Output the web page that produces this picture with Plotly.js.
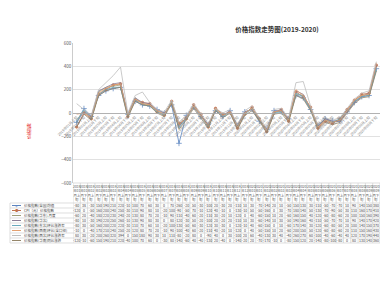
<!DOCTYPE html>
<html><head><meta charset="utf-8">
<script src="https://cdn.plot.ly/plotly-3.0.1.min.js"></script>
<style>html,body{margin:0;padding:0;overflow:hidden;background:#fff}#c{width:380px;height:290px}</style>
</head><body><div id="c"></div>
<script>
const categories = [
 "2019年01月上旬","2019年01月下旬","2019年02月上旬","2019年02月下旬","2019年03月上旬","2019年03月下旬",
 "2019年04月上旬","2019年04月下旬","2019年05月上旬","2019年05月下旬","2019年06月上旬","2019年06月下旬",
 "2019年07月上旬","2019年07月下旬","2019年08月上旬","2019年08月下旬","2019年09月上旬","2019年09月下旬",
 "2019年10月上旬","2019年10月下旬","2019年11月上旬","2019年11月下旬","2019年12月上旬","2019年12月下旬",
 "2020年01月上旬","2020年01月下旬","2020年02月上旬","2020年02月下旬","2020年03月上旬","2020年03月下旬",
 "2020年04月上旬","2020年04月下旬","2020年05月上旬","2020年05月下旬","2020年06月上旬","2020年06月下旬",
 "2020年07月上旬","2020年07月下旬","2020年08月上旬","2020年08月下旬","2020年09月上旬","2020年09月下旬"];

const seriesNames = [
 "价格指数(全国)均值",
 "CPI（元）价格指数",
 "价格指数(华东)-月度",
 "价格指数(华北)",
 "价格指数(东北)环比涨跌率",
 "价格指数(西南)环比(全口径)",
 "价格指数(西北)环比涨跌率",
 "价格指数(华南)同比涨跌"];

const s1 = [-80, 38, -30, 150, 190, 210, 220, -10, 100, 70, 60, 30, 0, 70, -260, -20, 50, -30, -100, 20, -30, 20, -110, 10, 30, -70, -140, 20, 10, -50, 150, 130, 30, -110, -50, -70, -70, 10, 90, 140, 150, 380];
const s2 = [-120, 0, -50, 160, 200, 240, 250, -30, 110, 90, 80, 10, -20, 100, -90, -50, 70, -10, -120, 40, -10, 0, -130, -10, 50, -50, -160, 0, 30, -70, 180, 140, 50, -130, -70, -90, -50, 30, 110, 160, 170, 410];
const s3 = [-60, 20, -40, 180, 220, 230, 240, -20, 130, 80, 70, 20, -10, 90, -110, -40, 60, -20, -110, 30, -20, 10, -120, 0, 40, -60, -150, 10, 20, -60, 160, 150, 40, -120, -60, -80, -60, 20, 100, 150, 160, 390];
const s4 = [-80, 10, -30, 190, 220, 250, 260, -10, 130, 90, 80, 30, 0, 80, -120, -30, 50, -20, -100, 20, -20, 20, -110, 10, 30, -60, -140, 10, 30, -50, 190, 160, 40, -110, -50, -70, -70, 10, 90, 140, 170, 420];
const s5 = [-80, 30, -50, 160, 200, 220, 220, -30, 110, 70, 60, 10, -20, 100, -130, -50, 60, -30, -120, 30, -30, 0, -120, -10, 40, -60, -150, 0, 10, -60, 170, 140, 30, -120, -60, -80, -50, 20, 100, 140, 150, 370];
const s6 = [-10, 0, -40, 170, 210, 240, 250, -20, 120, 80, 70, 20, -10, 90, -100, -40, 60, -20, -110, 40, -20, 10, -120, 0, 40, -50, -150, 10, 20, -60, 200, 150, 50, -120, -60, -80, -60, 20, 110, 150, 160, 430];
const s7 = [80, 30, -20, 200, 260, 320, 394, 0, 150, 180, 90, 30, 10, 110, -80, -20, 80, 0, -90, 40, 0, 30, -100, 20, 60, -40, -130, 30, 40, -40, 260, 270, 60, -100, -40, -60, -40, 40, 120, 170, 190, 440];
const s8 = [-120, -10, -60, 150, 190, 210, 220, -40, 100, 70, 60, 0, -30, 80, -140, -60, 40, -40, -130, 20, -40, 0, -140, -20, 20, -70, -170, -10, 0, -80, 150, 120, 20, -140, -80, -100, -80, 0, 80, 130, 140, 360];

const yTickVals = [-600, -400, -200, 0, 200, 400, 600];
const titleText = "价格指数走势图(2019-2020)";
const yTitleText = "价格指数";

const allSeries = [s1, s2, s3, s4, s5, s6, s7, s8];
const colors = ['#5b84c0', '#c0704d', '#9e9e7a', '#8c7d96', '#6aaabd', '#e3a070', '#bdbdbd', '#95866a'];
const markers = ['cross-thin-open', 'circle', null, null, null, null, null, null];
const FONT = '"Noto Sans CJK SC", "Noto Sans", sans-serif';

const plotTop = 43, plotBot = 183, plotL = 73, plotR = 380;
const ph = plotBot - plotTop, pw = plotR - plotL;
const py = px => (plotBot - px) / ph;
const pxX = px => (px - plotL) / pw;
const headerH = 20, rowH = 5;

const traces = allSeries.map((s, k) => {
  const t = {
    type: 'scatter', mode: markers[k] ? 'lines+markers' : 'lines',
    x: categories, y: s, name: seriesNames[k],
    line: {color: colors[k], width: 0.9}, opacity: 0.9,
    showlegend: false, hoverinfo: 'skip'
  };
  if (markers[k]) {
    t.marker = {symbol: markers[k], size: markers[k] === 'circle' ? 2.5 : 4, color: colors[k],
      line: {color: colors[k], width: 0.8}};
  }
  return t;
});

const shapes = [];
const annotations = [];
const gridC = '#d0d0d0';
const yHeadTop = py(plotBot), yHeadBot = py(plotBot + headerH);
shapes.push({type: 'line', xref: 'paper', yref: 'paper', x0: 0, x1: 1, y0: yHeadTop, y1: yHeadTop, line: {color: gridC, width: 0.7}});
for (let r = 0; r <= allSeries.length; r++) {
  const yy = py(plotBot + headerH + r * rowH);
  shapes.push({type: 'line', xref: 'paper', yref: 'paper', x0: pxX(10), x1: 1, y0: yy, y1: yy, line: {color: gridC, width: 0.7}});
}
const yTabBot = py(plotBot + headerH + allSeries.length * rowH);
for (let i = 0; i <= categories.length; i++) {
  shapes.push({type: 'line', xref: 'x', yref: 'paper', x0: i - 0.5, x1: i - 0.5, y0: yHeadTop, y1: yTabBot, line: {color: gridC, width: 0.7}});
}
shapes.push({type: 'line', xref: 'paper', yref: 'paper', x0: pxX(10), x1: pxX(10), y0: yHeadBot, y1: yTabBot, line: {color: gridC, width: 0.7}});

categories.forEach((c, i) => {
  const t = c.slice(0, 4) + '<br>' + c.slice(4, 7) + '<br>' + c.slice(7, 9) + '<br>' + c.slice(9);
  annotations.push({xref: 'x', yref: 'paper', x: i, y: (yHeadTop + yHeadBot) / 2, text: t, showarrow: false,
    font: {size: 3.4, color: '#595959', family: FONT}, xanchor: 'center', yanchor: 'middle'});
});
allSeries.forEach((s, k) => {
  const yc = py(plotBot + headerH + k * rowH + rowH / 2);
  s.forEach((v, i) => {
    annotations.push({xref: 'x', yref: 'paper', x: i, y: yc, text: String(v), showarrow: false,
      font: {size: 3.6, color: '#404040', family: FONT}, xanchor: 'center', yanchor: 'middle'});
  });
  shapes.push({type: 'line', xref: 'paper', yref: 'paper', x0: pxX(12), x1: pxX(21), y0: yc, y1: yc, line: {color: colors[k], width: 1}});
  if (markers[k]) {
    annotations.push({xref: 'paper', yref: 'paper', x: pxX(16.5), y: yc, text: markers[k] === 'circle' ? '●' : '+', showarrow: false,
      font: {size: markers[k] === 'circle' ? 3.5 : 5, color: colors[k], family: FONT}, xanchor: 'center', yanchor: 'middle'});
  }
  annotations.push({xref: 'paper', yref: 'paper', x: pxX(22), y: yc, text: seriesNames[k], showarrow: false,
    font: {size: 3.5, color: '#404040', family: FONT}, xanchor: 'left', yanchor: 'middle'});
});
annotations.push({xref: 'paper', yref: 'paper', x: pxX(29), y: py(131), text: yTitleText, textangle: -90, showarrow: false,
  font: {size: 4, color: '#e00000', family: FONT}, xanchor: 'center', yanchor: 'middle'});

const layout = {
  width: 380, height: 290,
  margin: {l: plotL, r: 380 - plotR, t: plotTop, b: 290 - plotBot, pad: 0},
  paper_bgcolor: '#fff', plot_bgcolor: '#fff',
  font: {family: FONT, color: '#595959'},
  title: {text: '<b>' + titleText + '</b>', x: 277 / 380, xref: 'container', xanchor: 'center',
    y: 1 - 30 / 290, yref: 'container', yanchor: 'middle', font: {size: 6.5, color: '#333', family: FONT}},
  xaxis: {type: 'category', range: [-0.5, categories.length - 0.5], anchor: 'free', position: 0.5,
    tickmode: 'array', tickvals: categories, ticktext: categories, tickangle: -45,
    tickfont: {size: 3.6, color: '#7f7f7f', family: FONT}, showgrid: false, showline: true,
    linecolor: '#a6a6a6', linewidth: 0.8, ticks: '', zeroline: false, automargin: false, fixedrange: true},
  yaxis: {range: [-600, 600], tickmode: 'array', tickvals: yTickVals, tickfont: {size: 4.5, color: '#595959', family: FONT},
    showgrid: true, gridcolor: '#d9d9d9', gridwidth: 0.8, zeroline: false, showline: true, linecolor: '#bfbfbf',
    linewidth: 0.8, ticks: '', automargin: false, fixedrange: true},
  shapes: shapes, annotations: annotations, showlegend: false
};
Plotly.newPlot('c', traces, layout, {staticPlot: true, displayModeBar: false});
</script></body></html>
